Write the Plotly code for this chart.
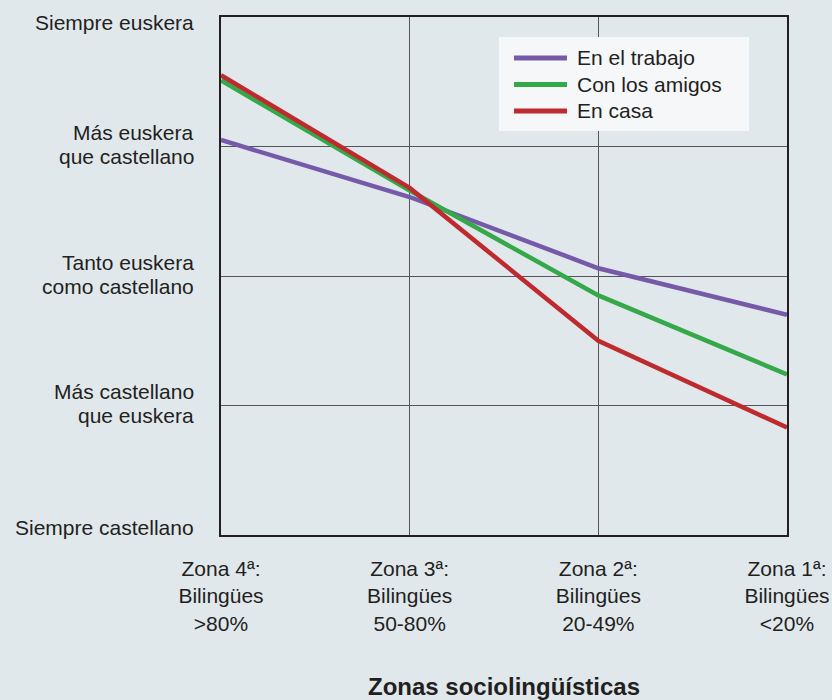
import plotly.graph_objects as go

# Sociolinguistic zones (x categories)
zonas = ["Zona 4ª:<br>Bilingües<br>>80%", "Zona 3ª:<br>Bilingües<br>50-80%",
         "Zona 2ª:<br>Bilingües<br>20-49%", "Zona 1ª:<br>Bilingües<br><20%"]

# Language-use scale: 1 = Siempre castellano ... 5 = Siempre euskera
escala_vals = [1, 2, 3, 4, 5]
escala_txt = [["Siempre castellano"],
              ["Más castellano", "que euskera"],
              ["Tanto euskera", "como castellano"],
              ["Más euskera", "que castellano"],
              ["Siempre euskera"]]

# Mean language use by context
trabajo = [4.05, 3.61, 3.06, 2.70]
amigos = [4.51, 3.66, 2.85, 2.24]
casa = [4.55, 3.68, 2.50, 1.83]

series = [("En el trabajo", trabajo, "#765aa9"),
          ("Con los amigos", amigos, "#35a84a"),
          ("En casa", casa, "#be2a2e")]

FONT = "Liberation Sans, Arial, Helvetica, sans-serif"
TXT = "#231f20"
BG = "#e1e8ec"

W, H = 832, 700
ML, MR, MT, MB = 221, 45, 17, 165
PW, PH = W - ML - MR, H - MT - MB


def px_x(p):
    return (p - ML) / PW


def px_y(p):
    return (H - MB - p) / PH


fig = go.Figure()
xs = list(range(len(zonas)))
for name, vals, color in series:
    fig.add_trace(go.Scatter(x=xs, y=vals, mode="lines", name=name,
                             line=dict(color=color, width=4.5),
                             showlegend=False))

annotations = []
shapes = []

# Y labels: right-aligned text beside the axis; end labels pulled inward
for v, lines in zip(escala_vals, escala_txt):
    base = 2
    if v == 5:
        base = -5
    elif v == 1:
        base = 8
    n = len(lines)
    for i, t in enumerate(lines):
        off = base + (-(i - (n - 1) / 2) * 24)
        annotations.append(dict(x=0, xref="paper", xanchor="right", xshift=-25,
                                y=v, yref="y", yanchor="middle", yshift=off,
                                text=t, showarrow=False,
                                font=dict(family=FONT, size=21, color=TXT)))

# Legend box with line samples
shapes.append(dict(type="rect", xref="paper", yref="paper", layer="above",
                   x0=px_x(499), x1=px_x(749), y0=px_y(131), y1=px_y(37),
                   fillcolor="#f5f7f9", line=dict(width=0)))
for k, (name, vals, color) in enumerate(series):
    yy = px_y(58 + k * 26.5)
    shapes.append(dict(type="line", xref="paper", yref="paper", layer="above",
                       x0=px_x(514), x1=px_x(567), y0=yy, y1=yy,
                       line=dict(color=color, width=5)))
    annotations.append(dict(x=px_x(575), xref="paper", xanchor="left",
                            y=yy, yref="paper", yanchor="middle",
                            text=name, showarrow=False,
                            font=dict(family=FONT, size=21, color=TXT)))

fig.update_layout(
    width=W, height=H,
    margin=dict(l=ML, r=MR, t=MT, b=MB),
    paper_bgcolor=BG, plot_bgcolor=BG,
    showlegend=False,
    annotations=annotations,
    shapes=shapes,
    font=dict(family=FONT, size=21, color=TXT),
)

fig.update_xaxes(range=[0, 3], tickvals=xs, ticktext=zonas, showgrid=True,
                 gridcolor="#555555", gridwidth=1, zeroline=False,
                 showline=True, linecolor=TXT, linewidth=1.5, mirror=True,
                 ticks="", ticklabelstandoff=14, automargin=False,
                 tickfont=dict(family=FONT, size=21, color=TXT),
                 title=dict(text="<b>Zonas sociolingüísticas</b>", standoff=48,
                            font=dict(family=FONT, size=24, color=TXT)))
fig.update_yaxes(range=[1, 5], tickvals=[2, 3, 4], showticklabels=False,
                 showgrid=True, gridcolor="#555555", gridwidth=1, zeroline=False,
                 showline=True, linecolor=TXT, linewidth=1.5, mirror=True,
                 ticks="", automargin=False)

fig.write_html("out.html")
